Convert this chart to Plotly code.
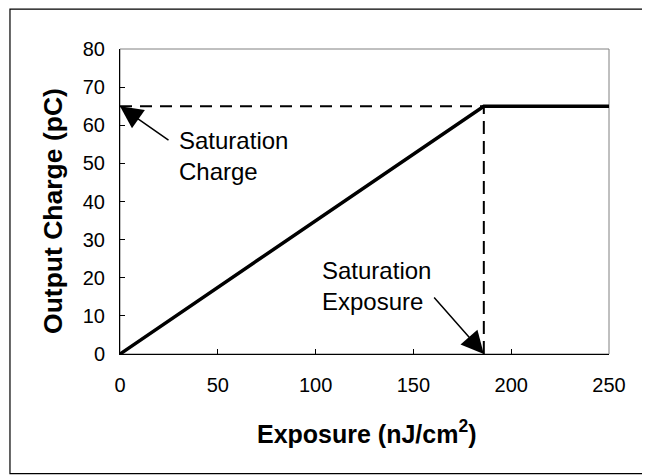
import plotly.graph_objects as go

# Data
exposure = [0, 186, 250]          # nJ/cm^2
charge = [0, 65, 65]              # pC
sat_exposure = 186
sat_charge = 65
x_ticks = [0, 50, 100, 150, 200, 250]
y_ticks = [0, 10, 20, 30, 40, 50, 60, 70, 80]

FONT = "Liberation Sans, Arial, sans-serif"

fig = go.Figure()

# dashed guide lines
fig.add_trace(go.Scatter(x=[0, sat_exposure], y=[sat_charge, sat_charge], mode="lines",
                         line=dict(color="black", width=2, dash="12px,8px"),
                         hoverinfo="skip", showlegend=False, cliponaxis=False))
fig.add_trace(go.Scatter(x=[sat_exposure, sat_exposure], y=[0, sat_charge], mode="lines",
                         line=dict(color="black", width=2, dash="13px,7px"),
                         hoverinfo="skip", showlegend=False, cliponaxis=False))
# response curve
fig.add_trace(go.Scatter(x=exposure, y=charge, mode="lines",
                         line=dict(color="black", width=3.5),
                         showlegend=False, cliponaxis=False))

annotations = [
    # arrows
    dict(x=0, y=sat_charge, xref="x", yref="y", text="", showarrow=True,
         ax=50, ay=35, arrowhead=2, arrowsize=3.0, arrowwidth=1.5, arrowcolor="black",
         standoff=0),
    dict(x=sat_exposure, y=0, xref="x", yref="y", text="", showarrow=True,
         ax=-51, ay=-58, arrowhead=2, arrowsize=3.0, arrowwidth=1.5, arrowcolor="black",
         standoff=0),
    # labels
    dict(x=29.1, y=51.9, xref="x", yref="y", text="Saturation<br>Charge", showarrow=False,
         xanchor="left", yanchor="middle", align="left",
         font=dict(family=FONT, size=24, color="black")),
    dict(x=102, y=17.8, xref="x", yref="y", text="Saturation<br>Exposure", showarrow=False,
         xanchor="left", yanchor="middle", align="left",
         font=dict(family=FONT, size=24, color="black")),
    # axis titles
    dict(x=0.505, y=-0.256, xref="paper", yref="paper",
         text="<b>Exposure (nJ/cm<sup>2</sup>)</b>", showarrow=False,
         xanchor="center", yanchor="middle",
         font=dict(family=FONT, size=25, color="black")),
    dict(x=-0.137, y=0.469, xref="paper", yref="paper",
         text="<b>Output Charge (pC)</b>", showarrow=False, textangle=-90,
         xanchor="center", yanchor="middle",
         font=dict(family=FONT, size=26.5, color="black")),
]

shapes = [
    # plot-area frame (grey)
    dict(type="rect", xref="paper", yref="paper", x0=0, x1=1, y0=0, y1=1,
         line=dict(color="#808080", width=1), layer="below"),
    # outer chart frame
    dict(type="rect", xref="paper", yref="paper", x0=-0.225, x1=1.0787, y0=-0.392, y1=1.131,
         line=dict(color="black", width=1.2), layer="below"),
]

fig.update_layout(
    width=650, height=475,
    margin=dict(l=112, r=49, t=41, b=129, pad=0),
    paper_bgcolor="white", plot_bgcolor="white",
    font=dict(family=FONT, size=20, color="black"),
    annotations=annotations, shapes=shapes,
    showlegend=False,
)
fig.update_xaxes(range=[0, 250], tickvals=x_ticks, ticks="inside", ticklen=5,
                 tickcolor="black", showline=True, linecolor="black", linewidth=1,
                 showgrid=False, zeroline=False, ticklabelstandoff=13,
                 tickfont=dict(family=FONT, size=20, color="black"))
fig.update_yaxes(range=[0, 80], tickvals=y_ticks, ticks="inside", ticklen=5,
                 tickcolor="black", showline=True, linecolor="black", linewidth=1,
                 showgrid=False, zeroline=False, ticklabelstandoff=10,
                 tickfont=dict(family=FONT, size=20, color="black"))

fig.write_html("out.html")
